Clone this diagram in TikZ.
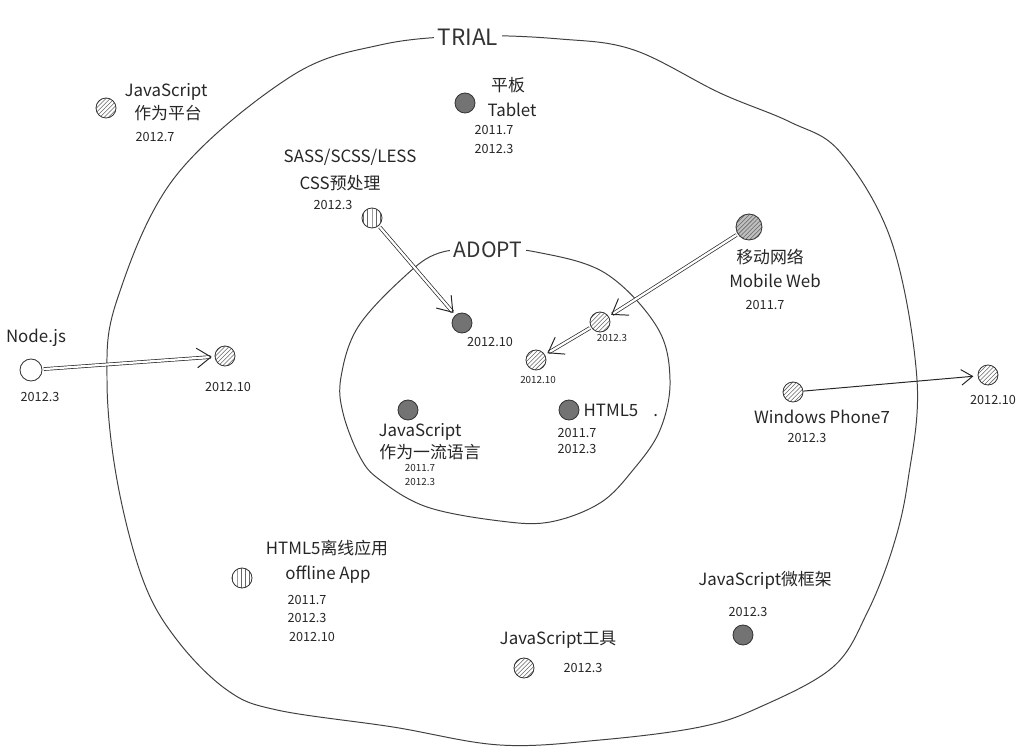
\documentclass[tikz,border=0pt]{standalone}
\usepackage{fontspec}
\setmainfont{Noto Sans CJK SC}
\usepackage{tikz}
\usetikzlibrary{arrows.meta,patterns}

\begin{document}
\begin{tikzpicture}[x=0.025cm,y=-0.025cm,
    ring/.style={draw=black!75, line width=0.7pt},
    ringname/.style={fill=white, inner sep=3pt, font=\fontsize{16}{18}\selectfont, text=black!80},
    lbl/.style={text=black!85, inner sep=1pt, font=\fontsize{12}{14}\selectfont},
    date/.style={text=black!85, inner sep=1pt, font=\fontsize{9}{11}\selectfont},
    smalldate/.style={text=black!85, inner sep=1pt, font=\fontsize{7}{9}\selectfont},
    dot/.style={circle, draw=black!80, line width=0.6pt, minimum size=0.5cm, inner sep=0pt},
    darkdot/.style={dot, fill=black!55},
    hatchdot/.style={dot, pattern=north east lines, pattern color=black!60},
    vdot/.style={dot, pattern=vertical lines, pattern color=black!60},
    mixdot/.style={dot, preaction={fill=black!25}, pattern=north east lines, pattern color=black!60},
    emptydot/.style={dot, fill=white},
    move/.style={draw=black!85, line width=0.5pt, double=white, double distance=1.6pt,
      -{Straight Barb[length=10pt,width=14pt,line width=0.7pt]}, shorten >=2pt, shorten <=1pt},
    single/.style={draw=black!85, line width=0.7pt, -{Straight Barb[length=8pt,width=11pt]}, shorten >=3pt}]
  \useasboundingbox (0,0) rectangle (1024,753);

  % Rings
  \draw[ring] plot[smooth cycle, tension=0.6] coordinates {
    (470,36) (560,39) (634,50) (720,93) (790,122) (841,153) (892,243) (917,380)
    (908,480) (893,547) (867,613) (833,667) (760,707) (700,727) (600,740) (500,745)
    (393,727) (277,710) (227,690) (177,640) (143,580) (117,480) (107,380) (117,300)
    (175,177) (290,77) (380,45)};
  \node[ringname] (trial) at (468,37) {TRIAL};

  \draw[ring] plot[smooth cycle, tension=0.6] coordinates {
    (488,249) (536,252) (605,273) (657,327) (670,380) (660,430) (633,470) (600,503)
    (550,522) (500,521) (427,507) (380,480) (360,457) (343,413) (341,377) (358,327)
    (404,277) (439,253)};
  \node[ringname, font=\fontsize{15}{17}\selectfont] (adopt) at (488,250) {ADOPT};

  % Dots
  \node[hatchdot] (jsplat) at (106,108) {};
  \node[darkdot] (tablet) at (465,103) {};
  \node[vdot] (sass) at (372,218) {};
  \node[darkdot] (sassnew) at (462,323) {};
  \node[mixdot, minimum size=0.65cm] (mobile) at (749,227) {};
  \node[hatchdot] (mobilea) at (600,322) {};
  \node[hatchdot] (mobileb) at (536,360) {};
  \node[emptydot, minimum size=0.55cm] (node) at (31,370) {};
  \node[hatchdot] (nodenew) at (225,356) {};
  \node[darkdot] (jslang) at (408,410) {};
  \node[darkdot] (html) at (569,410) {};
  \node[hatchdot] (wp) at (793,392) {};
  \node[hatchdot] (wpnew) at (988,375) {};
  \node[vdot] (offline) at (242,578) {};
  \node[darkdot] (micro) at (743,635) {};
  \node[hatchdot] (tools) at (524,668) {};

  % Labels
  \node[lbl] (jsplat1) at (166,92) {JavaScript};
  \node[lbl] (jsplat2) at (168,113) {作为平台};
  \node[date] (jsplat3) at (155,137) {2012.7};

  \node[lbl] (tablet1) at (508,85) {平板};
  \node[lbl] (tablet2) at (512,110) {Tablet};
  \node[date] (tablet3) at (494,130) {2011.7};
  \node[date] (tablet4) at (494,149) {2012.3};

  \node[lbl] (sass1) at (350,157) {SASS/SCSS/LESS};
  \node[lbl] (sass2) at (340,183) {CSS预处理};
  \node[date] (sass3) at (333,205) {2012.3};
  \node[date] (sassnew1) at (490,342) {2012.10};

  \node[lbl] (mobile1) at (770,257) {移动网络};
  \node[lbl] (mobile2) at (775,281) {Mobile Web};
  \node[date] (mobile3) at (765,305) {2011.7};
  \node[smalldate] (mobilea1) at (612,338) {2012.3};
  \node[smalldate] (mobileb1) at (538,380) {2012.10};

  \node[lbl] (node1) at (36,338) {Node.js};
  \node[date] (node2) at (40,397) {2012.3};
  \node[date] (nodenew1) at (228,387) {2012.10};

  \node[lbl] (jslang1) at (420,432) {JavaScript};
  \node[lbl] (jslang2) at (430,452) {作为一流语言};
  \node[smalldate] (jslang3) at (420,468) {2011.7};
  \node[smalldate] (jslang4) at (420,482) {2012.3};

  \node[lbl, anchor=west] (html1) at (582,410) {HTML5\hspace{0.9em}.};
  \node[date] (html2) at (577,433) {2011.7};
  \node[date] (html3) at (577,449) {2012.3};

  \node[lbl] (wp1) at (822,417) {Windows Phone7};
  \node[date] (wp2) at (807,438) {2012.3};
  \node[date] (wpnew1) at (993,400) {2012.10};

  \node[lbl] (offline1) at (327,548) {HTML5离线应用};
  \node[lbl] (offline2) at (328,575) {offline App};
  \node[date] (offline3) at (307,600) {2011.7};
  \node[date] (offline4) at (307,618) {2012.3};
  \node[date] (offline5) at (312,637) {2012.10};

  \node[lbl] (micro1) at (765,580) {JavaScript微框架};
  \node[date] (micro2) at (748,612) {2012.3};

  \node[lbl] (tools1) at (558,640) {JavaScript工具};
  \node[date] (tools2) at (583,668) {2012.3};

  % Arrows
  \draw[move] (sass) -- (sassnew);
  \draw[move] (mobile) -- (mobilea);
  \draw[move] (mobilea) -- (mobileb);
  \draw[move] (node) -- (nodenew);
  \draw[single] (wp) -- (wpnew);
\end{tikzpicture}
\end{document}
